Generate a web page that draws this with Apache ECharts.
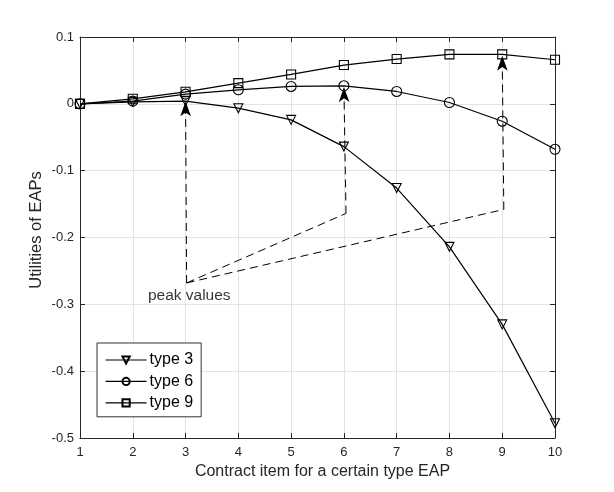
<!DOCTYPE html>
<html><head><meta charset="utf-8">
<script src="https://cdn.jsdelivr.net/npm/echarts@6/dist/echarts.min.js"></script>
<style>html,body{margin:0;padding:0;background:#fff}#c{width:614px;height:492px}</style>
</head><body><div id="c"></div>
<script>
var items = [1,2,3,4,5,6,7,8,9,10];
var type3 = [0, 0.003, 0.004, -0.0065, -0.024, -0.064, -0.126, -0.214, -0.33, -0.478];
var type6 = [0, 0.004, 0.0145, 0.021, 0.026, 0.027, 0.0185, 0.002, -0.026, -0.068];
var type9 = [0, 0.0075, 0.018, 0.031, 0.044, 0.058, 0.067, 0.074, 0.074, 0.066];
var seriesNames = ['type 3','type 6','type 9'];
// annotation: label anchor and arrow targets (data coordinates)
var peakText = 'peak values';
var textAnchor = [3.07, -0.287];
var lineStart = [3.02, -0.268];
var bends = [[3.02, -0.268], [6.04, -0.164], [9.03, -0.158]];
var peaks = [[3, 0.004], [6, 0.025], [9, 0.072]];

var FONT = 'Liberation Sans, Arial, Helvetica, sans-serif';
var TXT = '#262626';
function pairs(ys){ return items.map(function(x,i){ return [x, ys[i]]; }); }
function mk(name, ys, symbol, size, rot){
  return {
    name: name, type: 'line', data: pairs(ys), symbol: symbol, symbolSize: size,
    symbolRotate: rot || 0, color: '#000',
    lineStyle: {color: '#000', width: 1.2},
    itemStyle: {color: 'rgba(255,255,255,0)', borderColor: '#000', borderWidth: 1.1},
    emphasis: {disabled: true}, z: 3
  };
}
var dashSegs = [];
for (var i = 1; i < bends.length; i++) dashSegs.push({coords: [lineStart, bends[i]]});
var arrowSegs = bends.map(function(b, i){ return {coords: [b, peaks[i]]}; });

var yAxisBase = {
  type: 'value', min: -0.5, max: 0.1, interval: 0.1,
  axisLine: {show: true, onZero: false, lineStyle: {color: TXT, width: 1}},
  axisTick: {show: true, inside: true, length: 5, lineStyle: {color: TXT}},
  splitLine: {show: false}
};
var xAxisBase = {
  type: 'value', min: 1, max: 10, interval: 1,
  axisLine: {show: true, onZero: false, lineStyle: {color: TXT, width: 1}},
  axisTick: {show: true, inside: true, length: 5, lineStyle: {color: TXT}},
  splitLine: {show: false}
};
var chart = echarts.init(document.getElementById('c'));
chart.setOption({
  animation: false,
  backgroundColor: '#fff',
  textStyle: {fontFamily: FONT},
  grid: {left: 80, right: 59, top: 37, bottom: 54, containLabel: false},
  xAxis: [
    Object.assign({}, xAxisBase, {
      position: 'bottom',
      name: 'Contract item for a certain type EAP', nameLocation: 'middle', nameGap: 26,
      nameMoveOverlap: false,
      nameTextStyle: {color: TXT, fontSize: 16, fontFamily: FONT, padding: [0,0,0,10]},
      axisLabel: {color: TXT, fontSize: 13, margin: 8, fontFamily: FONT},
      splitLine: {show: true, lineStyle: {color: '#e3e3e3', width: 1}}
    }),
    Object.assign({}, xAxisBase, {position: 'top', axisLabel: {show: false}})
  ],
  yAxis: [
    Object.assign({}, yAxisBase, {
      position: 'left',
      name: 'Utilities of EAPs', nameLocation: 'middle', nameGap: 35,
      nameMoveOverlap: false,
      nameTextStyle: {color: TXT, fontSize: 16.5, fontFamily: FONT, padding: [0,0,0,15]},
      axisLabel: {color: TXT, fontSize: 13, margin: 6, fontFamily: FONT,
        formatter: function(v){ var s = (Math.round(v*10)/10).toString(); return s === '-0' ? '0' : s; }},
      splitLine: {show: true, lineStyle: {color: '#e3e3e3', width: 1}}
    }),
    Object.assign({}, yAxisBase, {position: 'right', axisLabel: {show: false}})
  ],
  legend: {
    data: seriesNames, orient: 'vertical', left: 97, top: 343,
    padding: [9, 8, 6, 8], itemGap: 5.4, itemWidth: 41, itemHeight: 9,
    backgroundColor: '#fff', borderColor: '#333', borderWidth: 1, borderRadius: 0,
    selectedMode: false,
    lineStyle: {width: 1.2},
    textStyle: {color: '#000', fontSize: 16, fontFamily: FONT, padding: [0,0,0,-2]}
  },
  series: [
    mk(seriesNames[0], type3, 'triangle', 9, 180),
    mk(seriesNames[1], type6, 'circle', 10),
    mk(seriesNames[2], type9, 'rect', 9),
    {
      type: 'lines', coordinateSystem: 'cartesian2d', data: dashSegs, silent: true,
      symbol: ['none','none'],
      lineStyle: {color: '#000', width: 1, type: [8,5], opacity: 1}, z: 4
    },
    {
      type: 'lines', coordinateSystem: 'cartesian2d', data: arrowSegs, silent: true,
      symbol: ['none','arrow'], symbolSize: [[1,1],[8,15]],
      lineStyle: {color: '#000', width: 1, type: [8,5], opacity: 1}, z: 4
    },
    {
      type: 'scatter', data: [textAnchor], symbolSize: 0, silent: true,
      label: {show: true, position: 'inside', formatter: peakText, color: '#000', fontSize: 15.5, fontFamily: FONT},
      z: 5
    }
  ]
});
</script></body></html>
